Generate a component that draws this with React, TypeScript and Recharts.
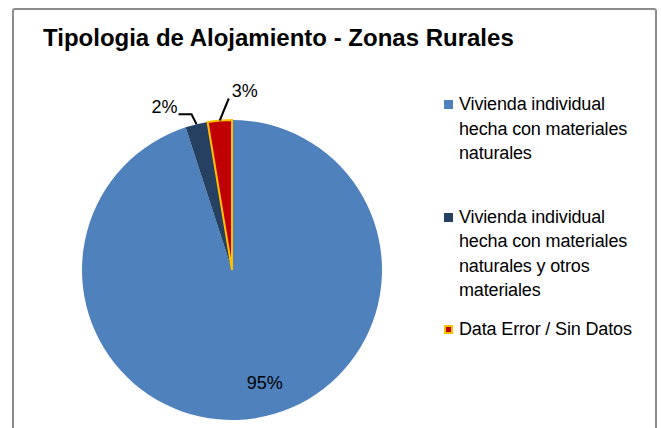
import { Cell, Legend, Pie, PieChart } from 'recharts'

const categories = [
  'Vivienda individual hecha con materiales naturales',
  'Vivienda individual hecha con materiales naturales y otros materiales',
  'Data Error / Sin Datos',
]
const legendLines = [
  ['Vivienda individual', 'hecha con materiales', 'naturales'],
  ['Vivienda individual', 'hecha con materiales', 'naturales y otros', 'materiales'],
  ['Data Error / Sin Datos'],
]
const shares = [95, 2.4, 2.6]
const colors = ['#4f81bd', '#254061', '#c00000']
const strokes = ['#ffffff', '#ffffff', '#ffc000']

const data = categories.map((name, i) => ({ name, value: shares[i] }))

const RAD = Math.PI / 180
const FONT = '"Liberation Sans", Arial, sans-serif'

function renderLabel(props: any) {
  const { cx, cy, midAngle, outerRadius, index, value } = props
  const cos = Math.cos(-midAngle * RAD)
  const sin = Math.sin(-midAngle * RAD)
  const text = `${Math.round(value)}%`
  if (index === 0) {
    const r = outerRadius * 0.76
    return (
      <text x={cx + r * cos + 15} y={cy + r * sin} textAnchor="middle" dominantBaseline="central"
        fontSize={18} fontFamily={FONT} fill="#000">{text}</text>
    )
  }
  const sx = cx + outerRadius * cos
  const sy = cy + outerRadius * sin
  if (index === 1) {
    const mx = sx - 5
    const my = sy - 10
    const ex = mx - 13
    return (
      <g>
        <polyline points={`${sx},${sy} ${mx},${my} ${ex},${my}`} fill="none" stroke="#000" strokeWidth={2} />
        <text x={ex - 1} y={my - 7} textAnchor="end" dominantBaseline="central"
          fontSize={18} fontFamily={FONT} fill="#000">{text}</text>
      </g>
    )
  }
  const ex = sx + 9
  const ey = sy - 22
  return (
    <g>
      <polyline points={`${sx},${sy} ${ex},${ey}`} fill="none" stroke="#000" strokeWidth={2} />
      <text x={ex + 16} y={ey - 8} textAnchor="middle" dominantBaseline="central"
        fontSize={18} fontFamily={FONT} fill="#000">{text}</text>
    </g>
  )
}

function renderLegend(props: any) {
  const { payload } = props
  const gaps = [0, 39, 14]
  return (
    <div style={{ fontFamily: FONT, fontSize: 18, lineHeight: '24.5px', color: '#000' }}>
      {payload.map((p: any, i: number) => (
        <div key={i} style={{ display: 'flex', alignItems: 'flex-start', marginTop: gaps[i] }}>
          <span style={{
            flex: 'none', width: 9, height: 9, marginTop: 8, marginRight: 6, boxSizing: 'border-box',
            background: colors[i], border: i === 2 ? `2px solid ${strokes[2]}` : 'none',
          }} />
          <div style={{ letterSpacing: -0.15 }}>
            {legendLines[i].map((l, j) => <div key={j}>{l}</div>)}
          </div>
        </div>
      ))}
    </div>
  )
}

export default function App() {
  return (
    <div style={{ position: 'absolute', left: 0, top: 0, width: 661, height: 428, background: '#fff', overflow: 'hidden' }}>
      <div style={{
        position: 'absolute', left: 12, top: 8, width: 641, height: 440,
        border: '2px solid #8c8c8c', borderRadius: 3,
      }} />
      <div style={{
        position: 'absolute', left: 43, top: 24, fontFamily: FONT, fontWeight: 'bold',
        fontSize: 24, lineHeight: '28px', color: '#000', whiteSpace: 'nowrap',
      }}>
        Tipologia de Alojamiento - Zonas Rurales
      </div>
      <div style={{ position: 'absolute', left: 0, top: 0 }}>
        <PieChart width={661} height={428} margin={{ top: 0, right: 0, bottom: 0, left: 0 }}>
          <Pie
            data={data}
            dataKey="value"
            cx={232}
            cy={270}
            outerRadius={150}
            startAngle={90}
            endAngle={-270}
            label={renderLabel}
            labelLine={false}
            isAnimationActive={false}
          >
            {data.map((d, i) => (
              <Cell key={d.name} fill={colors[i]} stroke={strokes[i]} strokeWidth={i === 2 ? 2 : 0} />
            ))}
          </Pie>
          <Legend
            layout="vertical"
            verticalAlign="top"
            align="right"
            wrapperStyle={{ left: 444, top: 92, width: 210 }}
            content={renderLegend}
          />
        </PieChart>
      </div>
    </div>
  )
}
